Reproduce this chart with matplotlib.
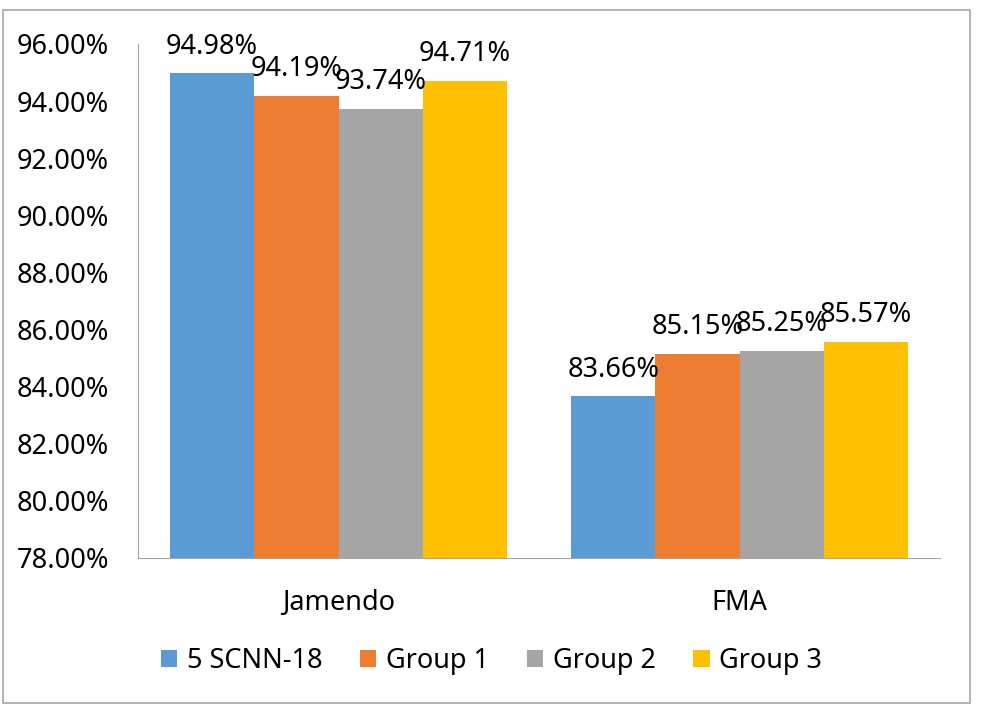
import matplotlib
matplotlib.use('Agg')

import matplotlib.pyplot as plt
import matplotlib.patches as mpatches
import numpy as np

plt.rcParams['font.family'] = ['Noto Sans', 'DejaVu Sans']

categories = ['Jamendo', 'FMA']
series_names = ['5 SCNN-18', 'Group 1', 'Group 2', 'Group 3']
series_values = [
    [94.98, 83.66],
    [94.19, 85.15],
    [93.74, 85.25],
    [94.71, 85.57],
]
colors = ['#5B9BD5', '#ED7D31', '#A5A5A5', '#FFC000']
y_ticks = np.arange(78, 96.01, 2)

W, H = 990, 707
FS = 19.5
fig = plt.figure(figsize=(W / 100, H / 100), dpi=100)
# axes box in pixels: left 138, right 940, top 44, bottom 558
ax = fig.add_axes([138 / W, 1 - 558 / H, (940 - 138) / W, (558 - 44) / H])

x = np.arange(len(categories))
bar_w = 0.21
for i, (name, vals, c) in enumerate(zip(series_names, series_values, colors)):
    pos = x + (i - 1.5) * bar_w
    bars = ax.bar(pos, vals, width=bar_w, color=c, label=name)
    for b, v in zip(bars, vals):
        ax.annotate(f'{v:.2f}%', xy=(b.get_x() + b.get_width() / 2, v),
                    xytext=(0, 9), textcoords='offset points',
                    ha='center', va='bottom', fontsize=FS, color='#000000')

ax.set_xlim(-0.5, 1.5)
ax.set_ylim(78, 96)
ax.set_yticks(y_ticks)
ax.set_yticklabels([f'{t:.2f}%' for t in y_ticks], fontsize=FS)
ax.set_xticks(x)
ax.set_xticklabels(categories, fontsize=FS)
ax.tick_params(axis='both', length=0)
ax.tick_params(axis='x', pad=22)
ax.tick_params(axis='y', pad=21)
for s in ['top', 'right']:
    ax.spines[s].set_visible(False)
ax.spines['left'].set_color('#a6a6a6')
ax.spines['bottom'].set_color('#a6a6a6')

ax.legend(loc='center', bbox_to_anchor=(0.5 * (168 + 815) / W, 1 - 661 / H),
          bbox_transform=fig.transFigure, ncol=4, frameon=False,
          fontsize=FS, handlelength=0.6, handleheight=0.6,
          handletextpad=0.35, columnspacing=1.4)

fig.patches.append(mpatches.Rectangle((3 / W, 1 - 703 / H), (970 - 3) / W,
                                      (703 - 10) / H, transform=fig.transFigure,
                                      fill=False, edgecolor='#a6a6a6', lw=1.2))

fig.savefig('out.png', dpi=100, facecolor='white')
plt.close(fig)
